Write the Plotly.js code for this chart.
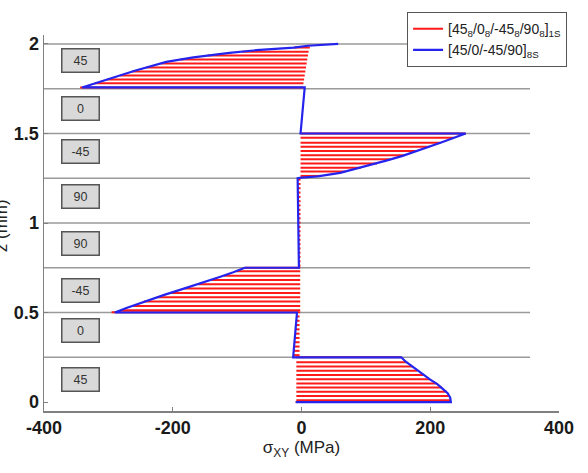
<!DOCTYPE html>
<html>
<head>
<meta charset="utf-8">
<script src="https://cdn.plot.ly/plotly-3.0.1.min.js"></script>
<style>html,body{margin:0;padding:0;background:#fff;}#chart{width:588px;height:473px;}</style>
</head>
<body>
<div id="chart"></div>
<script>
// ---- data ----
// layer boundaries (mm) and ply-angle labels (bottom to top)
const boundaries = [0.25, 0.5, 0.75, 1, 1.25, 1.5, 1.75, 2];
const layerLabels = ['45', '0', '-45', '90', '90', '-45', '0', '45'];

// blue series [45/0/-45/90]_8S : outline of sigma_XY through thickness
const blueZ = [0, 0, 0.025, 0.05, 0.075, 0.1, 0.125, 0.15, 0.175, 0.2, 0.225, 0.25, 0.25, 0.5, 0.5,
  0.525, 0.55, 0.575, 0.6, 0.625, 0.65, 0.675, 0.7, 0.725, 0.75, 0.75, 1.25, 1.253, 1.26, 1.28,
  1.3, 1.325, 1.35, 1.375, 1.4, 1.425, 1.45, 1.475, 1.5, 1.5, 1.757, 1.757,
  1.8, 1.85, 1.9, 1.925, 1.95, 1.965, 1.98, 1.99, 2.0];
const blueSxy = [-9, 232, 231, 227, 219, 211, 200, 190, 180, 171, 162, 155, -13, -7, -290,
  -272, -253, -234, -212, -190, -168, -146, -126, -106, -88, -4, -6, 0, 25, 60,
  82, 109, 133, 157, 178, 198, 217, 236, 255, -1.5, 5, -341,
  -304, -259, -210, -168, -112, -70, -12, 10, 57];

// red series [45_8/0_8/-45_8/90_8]_1S : horizontal hatch rows (z, from, to)
const redZ = [
  0, 0.01, 0.034, 0.057, 0.081, 0.104, 0.128, 0.151, 0.175, 0.198, 0.222, 0.25,
  0.262, 0.286, 0.31, 0.334, 0.358, 0.382, 0.406, 0.43, 0.454, 0.478,
  0.502, 0.513, 0.537, 0.561, 0.585, 0.609, 0.634, 0.658, 0.682, 0.706, 0.73, 0.75,
  0.762, 0.786, 0.81, 0.834, 0.858, 0.882, 0.906, 0.93, 0.954, 0.978, 1.002, 1.026, 1.05, 1.074, 1.098, 1.122, 1.146, 1.17, 1.194, 1.218, 1.242,
  1.263, 1.287, 1.309, 1.333, 1.356, 1.378, 1.402, 1.426, 1.448, 1.476, 1.5,
  1.757, 1.781, 1.802, 1.824, 1.846, 1.868, 1.891, 1.913, 1.935, 1.957, 1.98];
const redFrom = [
  -9, -8, -8, -8, -8, -8, -8, -8, -8, -8, -8, -8,
  -12.7, -12.1, -11.6, -11, -10.4, -9.8, -9.3, -8.7, -8.1, -7.5,
  -295, -281, -263, -245, -225, -204, -182, -161, -140, -121, -102, -88,
  -4.0, -4.1, -4.2, -4.3, -4.4, -4.5, -4.6, -4.7, -4.8, -4.9, -5.0, -5.1, -5.2, -5.3, -5.4, -5.5, -5.6, -5.7, -5.8, -5.9, -6.0,
  -1.5, -1.5, -1.5, -1.5, -1.5, -1.5, -1.5, -1.5, -1.5, -1.5, -1.5,
  -344, -321, -302, -282, -263, -241, -219, -188, -146, -92, -12];
const redTo = [
  232, 232, 230, 226, 218, 210, 199, 190, 180, 172, 163, 155,
  -3, -3, -3, -3, -3, -3, -3, -3, -3, -3,
  -2, -2, -2, -2, -2, -2, -2, -2, -2, -2, -2, -2,
  -1.5, -1.5, -1.5, -1.5, -1.5, -1.5, -1.5, -1.5, -1.5, -1.5, -1.5, -1.5, -1.5, -1.5, -1.5, -1.5, -1.5, -1.5, -1.5, -1.5, -1.5,
  30, 68, 92, 117, 138, 159, 180, 199, 216, 237, 255,
  3, 3, 4, 5, 6, 7, 8, 9, 10, 11, 13];

const xTicks = [-400, -200, 0, 200, 400];
const xTickText = ['-400', '-200', '0', '200', '400'];
const yTicks = [0, 0.5, 1, 1.5, 2];
const yTickText = ['0', '0.5', '1', '1.5', '2'];

// ---- build traces ----
const gx = [], gy = [];
boundaries.forEach(b => { gx.push(-400, 355, null); gy.push(b, b, null); });

const rx = [], ry = [];
redZ.forEach((z, i) => { rx.push(redFrom[i], redTo[i], null); ry.push(z, z, null); });

const labelY = [0.126, 0.4, 0.623, 0.887, 1.149, 1.40, 1.64, 1.906];

const FONT = 'Liberation Sans, Arial, Helvetica, sans-serif';

const traces = [
  {x: gx, y: gy, mode: 'lines', line: {color: '#9a9a9a', width: 1.5}, showlegend: false, hoverinfo: 'skip'},
  {x: rx, y: ry, mode: 'lines', line: {color: '#ff1a1a', width: 2}, connectgaps: false,
   name: '[45<sub>8</sub>/0<sub>8</sub>/-45<sub>8</sub>/90<sub>8</sub>]<sub>1S</sub>'},
  {x: blueSxy, y: blueZ, mode: 'lines', line: {color: '#2424ee', width: 2.2},
   name: '[45/0/-45/90]<sub>8S</sub>'}
];

const annotations = layerLabels.map((t, i) => ({
  x: -344, y: labelY[i], xref: 'x', yref: 'y', text: t, showarrow: false,
  font: {family: FONT, size: 12.5, color: '#333'},
  bgcolor: '#d9d9d9', bordercolor: '#555', borderwidth: 1.5, borderpad: 1,
  width: 34, height: 20, align: 'center', valign: 'middle'
}));
// y-axis title, partly cut by the left edge as in the reference
annotations.push({
  xref: 'paper', yref: 'paper', x: -0.0835, y: 0.494, xanchor: 'center', yanchor: 'middle',
  text: 'z (mm)', textangle: -90, showarrow: false,
  font: {family: FONT, size: 17, color: '#222'}
});

const layout = {
  width: 588, height: 473,
  margin: {l: 44, r: 29, t: 33, b: 62},
  paper_bgcolor: '#fff', plot_bgcolor: '#fff',
  font: {family: FONT, color: '#222'},
  showlegend: true,
  legend: {x: 0.705, y: 1.0608, xanchor: 'left', yanchor: 'top', bgcolor: '#fff',
    bordercolor: '#555', borderwidth: 1, font: {family: FONT, size: 14, color: '#222'},
    itemwidth: 30, tracegroupgap: 0},
  xaxis: {range: [-400, 400], tickvals: xTicks, ticktext: xTickText, ticks: 'inside', ticklen: 4, tickcolor: '#808080',
    tickwidth: 1, showline: true, linecolor: '#808080', linewidth: 1.5, showgrid: false, zeroline: false,
    tickfont: {family: FONT, size: 18, color: '#1a1a1a', weight: 'bold'},
    title: {text: 'σ<sub>XY</sub> (MPa)', font: {family: FONT, size: 17, color: '#222'}, standoff: 4}},
  yaxis: {range: [-0.05, 2.05], tickvals: yTicks, ticktext: yTickText, ticks: 'inside', ticklen: 4, tickcolor: '#808080',
    tickwidth: 1, showline: true, linecolor: '#808080', linewidth: 1.5, showgrid: false, zeroline: false,
    tickfont: {family: FONT, size: 18, color: '#1a1a1a', weight: 'bold'}},
  annotations: annotations
};

Plotly.newPlot('chart', traces, layout, {displayModeBar: false, staticPlot: true});
</script>
</body>
</html>
